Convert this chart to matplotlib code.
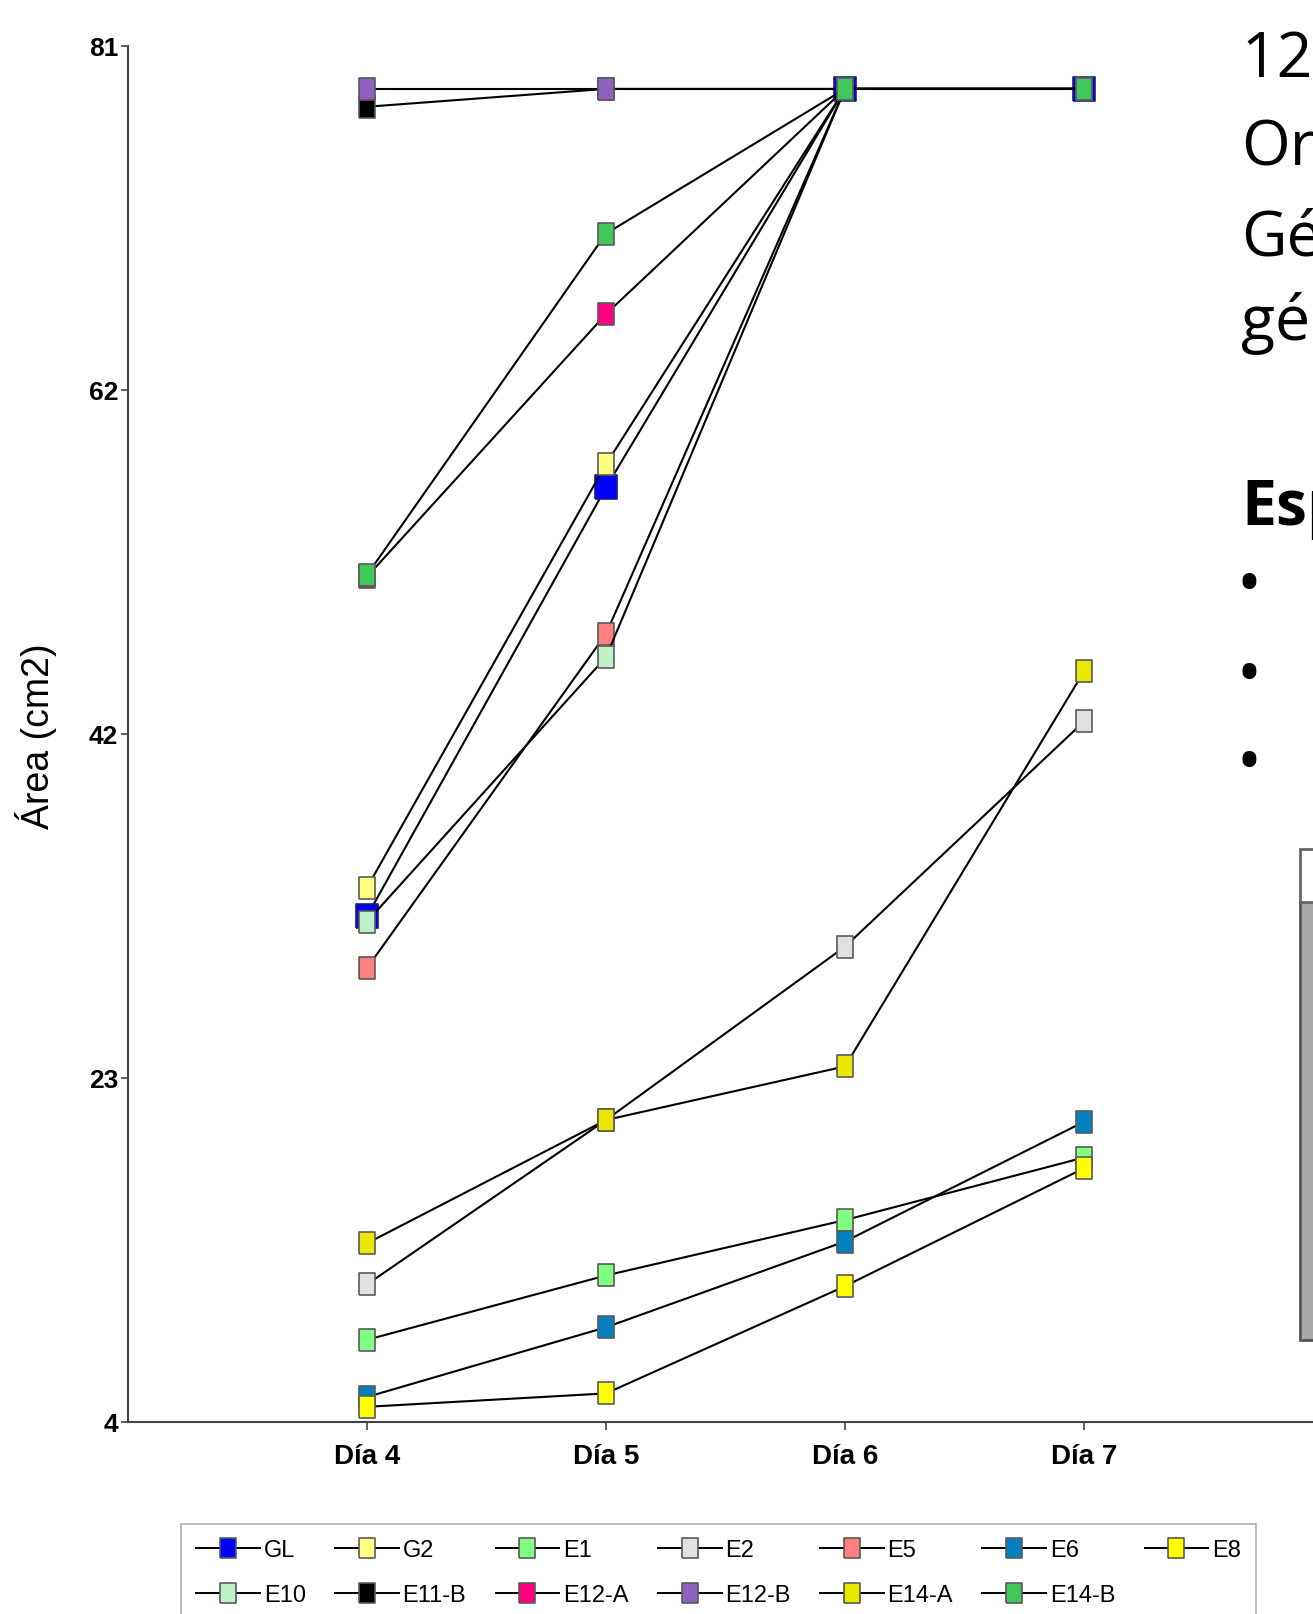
import matplotlib
matplotlib.use("Agg")
import matplotlib.pyplot as plt
from matplotlib import font_manager
from matplotlib.lines import Line2D
from matplotlib.patches import Rectangle

# ---------------- data ----------------
days = ["Día 4", "Día 5", "Día 6", "Día 7"]
series_names = ["GL", "G2", "E1", "E2", "E5", "E6", "E8",
                "E10", "E11-B", "E12-A", "E12-B", "E14-A", "E14-B"]
GL    = [32.3, 56.3, 78.6, 78.6]
G2    = [33.9, 57.6, 78.6, 78.6]
E1    = [8.6, 12.2, 15.3, 18.8]
E2    = [11.7, 20.9, 30.6, 43.2]
E5    = [29.4, 48.1, 78.6, 78.6]
E6    = [5.4, 9.3, 14.1, 20.8]
E8    = [4.85, 5.6, 11.6, 18.2]
E10   = [32.0, 46.8, 78.6, 78.6]
E11_B = [77.6, 78.6, 78.6, 78.6]
E12_A = [51.3, 66.0, 78.6, 78.6]
E12_B = [78.6, 78.6, 78.6, 78.6]
E14_A = [14.0, 20.9, 23.9, 46.0]
E14_B = [51.4, 70.5, 78.6, 78.6]
values = [GL, G2, E1, E2, E5, E6, E8, E10, E11_B, E12_A, E12_B, E14_A, E14_B]
colors = ["#0000ff", "#ffff80", "#80ff80", "#e0e0e0", "#ff8080", "#0080c0", "#ffff00",
          "#c0f0c8", "#000000", "#ff0080", "#9060c0", "#e8e800", "#40c858"]
ytick_vals = [4, 23.25, 42.5, 61.75, 81]
ytick_labels = ["4", "23", "42", "62", "81"]

# ---------------- fonts ----------------
names = {f.name for f in font_manager.fontManager.ttflist}
if "Liberation Sans Narrow" in names:
    cond = ["Liberation Sans Narrow", "DejaVu Sans"]
    tick_fs_y, tick_fs_x, leg_fs = 21, 22, 19
else:
    cond = ["Liberation Sans", "DejaVu Sans"]
    tick_fs_y, tick_fs_x, leg_fs = 19, 20, 17
slide_font = ["Open Sans", "DejaVu Sans"]

W, H = 1313, 1615
fig = plt.figure(figsize=(W / 100, H / 100), dpi=100)
fig.patch.set_facecolor("white")

left_px, top_px, bottom_px = 128, 47, 1423
ax = fig.add_axes([left_px / W, (H - bottom_px) / H, (5 * 239) / W, (bottom_px - top_px) / H])
ax.set_xlim(0, 5)
ax.set_ylim(4, 81)
ax.set_facecolor("none")

rect = [(-0.38, -0.5), (0.38, -0.5), (0.38, 0.5), (-0.38, 0.5), (-0.38, -0.5)]
rect_gl = [(-0.45, -0.5), (0.45, -0.5), (0.45, 0.5), (-0.45, 0.5), (-0.45, -0.5)]

x = [1, 2, 3, 4]
handles = []
for i, (name, vals, col) in enumerate(zip(series_names, values, colors)):
    if name == "GL":
        mk, ms, mec = rect_gl, 17.5, "#1a1a80"
    else:
        mk, ms, mec = rect, 15.5, "#5a5a5a"
    ax.plot(x, vals, color="black", lw=1.5, marker=mk, markersize=ms,
            markerfacecolor=col, markeredgecolor=mec, markeredgewidth=1.2,
            zorder=3 + i, clip_on=False)
    handles.append(Line2D([0], [0], color="black", lw=1.4, marker=rect, markersize=15,
                          markerfacecolor=col, markeredgecolor="#5a5a5a",
                          markeredgewidth=1.2, label=name))

for s in ["top", "right"]:
    ax.spines[s].set_visible(False)
for s in ["left", "bottom"]:
    ax.spines[s].set_color("#444444")
    ax.spines[s].set_linewidth(1.5)

ax.set_yticks(ytick_vals)
ax.set_yticklabels(ytick_labels, fontfamily=cond, fontweight="bold", fontsize=tick_fs_y)
ax.set_xticks(x)
ax.set_xticklabels(days, fontfamily=cond, fontweight="bold", fontsize=tick_fs_x)
ax.tick_params(axis="y", length=5, width=1.2, color="#444444", pad=2)
ax.tick_params(axis="x", length=6, width=1.2, color="#444444", pad=9)

fig.text(36 / W, 1 - 736 / H, "Área (cm2)", rotation=90, ha="center", va="center",
         fontsize=27, fontfamily=["Liberation Sans", "DejaVu Sans"])

# legend (ordered so rows read GL..E8 / E10..E14-B)
order = [0, 7, 1, 8, 2, 9, 3, 10, 4, 11, 5, 12, 6]
leg = fig.legend([handles[k] for k in order], [series_names[k] for k in order],
                 ncol=7, loc="upper left", bbox_to_anchor=(181 / W, 1 - 1525 / H),
                 frameon=True, fancybox=False, shadow=False, handlelength=2.7,
                 handletextpad=0.15, columnspacing=1.25, borderpad=0.65, labelspacing=0.95,
                 prop={"family": cond, "size": leg_fs}, borderaxespad=0)
leg.get_frame().set_edgecolor("#999999")
leg.get_frame().set_linewidth(1.2)

# slide text on the right (cut by the right edge, as in the source slide)
tx = 1241 / W
for txt, yb in [("12", 77), ("Or", 166), ("Gé", 255), ("gé", 340)]:
    fig.text(tx, 1 - yb / H, txt, fontsize=45, fontfamily=slide_font, va="baseline", ha="left")
fig.text(tx, 1 - 525 / H, "Esp", fontsize=45, fontweight="bold", fontfamily=slide_font,
         va="baseline", ha="left")
for yb in [606, 696, 784]:
    fig.text(1236 / W, 1 - yb / H, "•", fontsize=48, fontfamily=slide_font,
             va="baseline", ha="left")

# grey box
fig.patches.append(Rectangle((1300 / W, 1 - 1341 / H), 40 / W, (1341 - 903) / H,
                             transform=fig.transFigure, facecolor="#a8a8a8",
                             edgecolor="#555555", lw=2))
fig.patches.append(Rectangle((1300 / W, 1 - 903 / H), 40 / W, (903 - 850) / H,
                             transform=fig.transFigure, facecolor="white",
                             edgecolor="#666666", lw=2))

fig.savefig("out.png", dpi=100, facecolor="white")
